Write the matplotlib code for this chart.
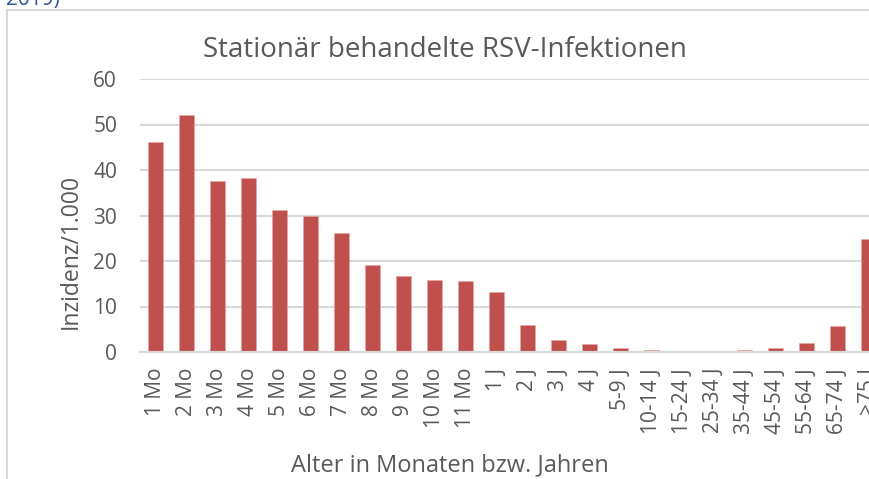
import matplotlib
matplotlib.use("Agg")
import matplotlib.pyplot as plt
from matplotlib.lines import Line2D
import numpy as np

plt.rcParams['font.family'] = ['Open Sans', 'DejaVu Sans']

altersgruppen = ["1 Mo", "2 Mo", "3 Mo", "4 Mo", "5 Mo", "6 Mo", "7 Mo", "8 Mo",
                 "9 Mo", "10 Mo", "11 Mo", "1 J", "2 J", "3 J", "4 J", "5-9 J",
                 "10-14 J", "15-24 J", "25-34 J", "35-44 J", "45-54 J", "55-64 J",
                 "65-74 J", ">75 J"]
inzidenz = [46.2, 52.0, 37.6, 38.3, 31.1, 30.0, 26.2, 19.1,
            16.7, 15.9, 15.7, 13.1, 5.9, 2.6, 1.7, 0.8,
            0.4, 0.3, 0.3, 0.5, 0.8, 2.0, 5.7, 24.8]
y_ticks = [0, 10, 20, 30, 40, 50, 60]

W, H = 869, 479
TXT = '#595959'
fig = plt.figure(figsize=(W / 100, H / 100), dpi=100)

# plot area runs past the right edge (the screenshot is cropped)
left, right, top, bottom = 140, 884, 79, 352
ax = fig.add_axes([left / W, 1 - bottom / H, (right - left) / W, (bottom - top) / H])

x = np.arange(len(altersgruppen))
ax.bar(x, inzidenz, width=0.5, color='#C0504D', edgecolor='#E8A6A4', linewidth=0.4, zorder=3)

ax.set_xlim(-0.5, len(altersgruppen) - 0.5)
ax.set_ylim(0, 60)
ax.set_yticks(y_ticks)
ax.set_xticks(x)
ax.set_xticklabels(altersgruppen, rotation=90, va='top', ha='center')
ax.tick_params(axis='x', length=0, pad=11.5, labelsize=15, labelcolor=TXT)
ax.tick_params(axis='y', length=0, pad=16.5, labelsize=15, labelcolor=TXT)
ax.grid(axis='y', color='#D9D9D9', linewidth=1.5, zorder=0)
for s in ['top', 'right', 'left']:
    ax.spines[s].set_visible(False)
ax.spines['bottom'].set_color('#D9D9D9')
ax.spines['bottom'].set_linewidth(1.5)
ax.spines['bottom'].set_zorder(4)

ax.set_ylabel("Inzidenz/1.000", fontsize=16.5, color=TXT)
ax.yaxis.set_label_coords((83 - left) / (right - left), (bottom - 251) / (bottom - top))
ax.set_xlabel("Alter in Monaten bzw. Jahren", fontsize=17, color=TXT)
ax.xaxis.set_label_coords((450 - left) / (right - left), (bottom - 453) / (bottom - top))

fig.text(445 / W, 1 - 57 / H, "Stationär behandelte RSV-Infektionen",
         fontsize=20, color=TXT, ha='center', va='baseline')

# chart frame and cut-off caption above it
fig.add_artist(Line2D([7 / W, 7 / W], [0, 1 - 10 / H], color='#D9D9D9', linewidth=1.5))
fig.add_artist(Line2D([7 / W, 1], [1 - 10 / H, 1 - 10 / H], color='#D9D9D9', linewidth=1.5))
fig.text(6 / W, 1 - 5 / H, "2019)", fontsize=15, color='#2F5597', ha='left', va='baseline')

plt.savefig("out.png", dpi=100)
plt.close()
